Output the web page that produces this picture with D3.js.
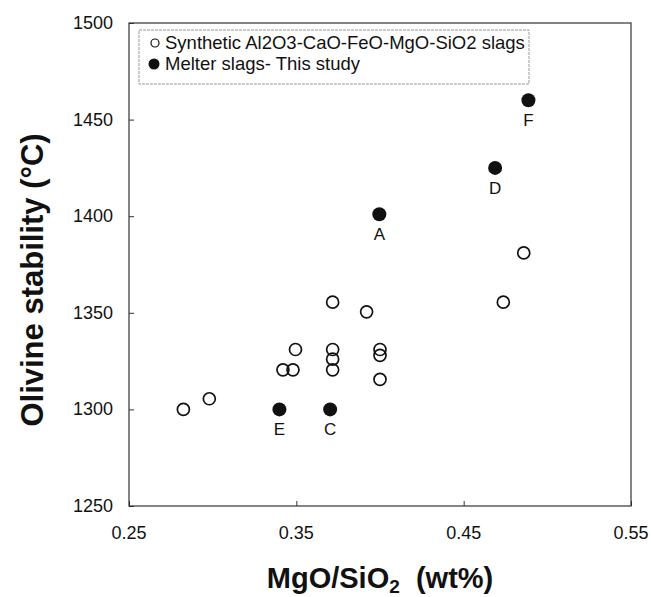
<!DOCTYPE html>
<head>
<meta charset="utf-8">
<style>
  body { margin: 0; background-color: white; }
  svg text { font-family: "Liberation Sans", Arial, sans-serif; fill: #111; }
  .tick-label { font-size: 18px; }
  .title { font-size: 29px; font-weight: bold; }
  .ytitle { font-size: 31px; font-weight: bold; }
  .pt-label { font-size: 17px; }
  .legend text { font-size: 18.5px; }
</style>
</head>
<body>
<svg width="651" height="597"></svg>
<script src="https://cdnjs.cloudflare.com/ajax/libs/d3/7.8.5/d3.min.js"></script>
<script>

// synthetic Al2O3-CaO-FeO-MgO-SiO2 slags (open)
var synthX = [0.2825, 0.298, 0.342, 0.348, 0.3495, 0.3717, 0.3717, 0.3717, 0.3717, 0.392, 0.400, 0.400, 0.400, 0.4737, 0.4859];
var synthY = [1300, 1305.5, 1320.5, 1320.5, 1331, 1355.5, 1331, 1326, 1320.5, 1350.5, 1331, 1328, 1315.5, 1355.5, 1381];

// melter slags - this study (filled)
var melterLabels = ["A", "C", "D", "E", "F"];
var melterX = [0.3996, 0.3702, 0.4688, 0.3399, 0.4887];
var melterY = [1401, 1300, 1425, 1300, 1460];

var xTicks = [0.25, 0.35, 0.45, 0.55];
var yTicks = [1250, 1300, 1350, 1400, 1450, 1500];

var legendLabels = ["Synthetic Al2O3-CaO-FeO-MgO-SiO2 slags", "Melter slags- This study"];

var svg = d3.select("svg"),
    margin = {left: 129, top: 23, right: 20, bottom: 91},
    width = 651 - margin.left - margin.right,
    height = 597 - margin.top - margin.bottom;

var x = d3.scaleLinear().domain([0.25, 0.55]).range([0, width]);
var y = d3.scaleLinear().domain([1250, 1500]).range([height, 0]);

var g = svg.append("g").attr("transform", "translate(" + margin.left + "," + margin.top + ")");

// inward ticks, labels drawn separately
var xAxis = g.append("g")
    .attr("transform", "translate(0," + height + ")")
    .call(d3.axisBottom(x).tickValues(xTicks).tickSize(-5).tickFormat(""));
var yAxis = g.append("g")
    .call(d3.axisLeft(y).tickValues(yTicks).tickSize(-5).tickFormat(""));
[xAxis, yAxis].forEach(function(a) {
  a.select(".domain").remove();
  a.selectAll("line").attr("stroke", "#333").attr("stroke-width", 1);
});

g.selectAll(".xlab")
  .data(xTicks)
  .enter().append("text")
    .attr("class", "tick-label")
    .attr("x", function(d) { return x(d); })
    .attr("y", height + 33)
    .attr("text-anchor", "middle")
    .text(function(d) { return d3.format(".2f")(d); });

g.selectAll(".ylab")
  .data(yTicks)
  .enter().append("text")
    .attr("class", "tick-label")
    .attr("x", -16)
    .attr("y", function(d) { return y(d) + 6; })
    .attr("text-anchor", "end")
    .text(function(d) { return d; });

// frame
g.append("rect")
  .attr("width", width).attr("height", height)
  .attr("fill", "none").attr("stroke", "#333").attr("stroke-width", 1.2);

// legend
var legend = g.append("g").attr("class", "legend").attr("transform", "translate(10,7)");
legend.append("rect")
  .attr("width", 390).attr("height", 54)
  .attr("fill", "none").attr("stroke", "#999").attr("stroke-width", 1)
  .attr("stroke-dasharray", "3,1");
legend.append("circle").attr("cx", 16).attr("cy", 13).attr("r", 4)
  .attr("fill", "white").attr("stroke", "#111").attr("stroke-width", 1.2);
legend.append("circle").attr("cx", 15).attr("cy", 34).attr("r", 5.5)
  .attr("fill", "#111");
legend.selectAll(".lt")
  .data(legendLabels)
  .enter().append("text")
    .attr("x", 26)
    .attr("y", function(d, i) { return 19 + i * 21; })
    .text(function(d) { return d; });

// open points
g.selectAll(".synth")
  .data(synthX)
  .enter().append("circle")
    .attr("cx", function(d) { return x(d); })
    .attr("cy", function(d, i) { return y(synthY[i]); })
    .attr("r", 6)
    .attr("fill", "none")
    .attr("stroke", "#111")
    .attr("stroke-width", 1.7);

// filled points
g.selectAll(".melter")
  .data(melterX)
  .enter().append("circle")
    .attr("cx", function(d) { return x(d); })
    .attr("cy", function(d, i) { return y(melterY[i]); })
    .attr("r", 7)
    .attr("fill", "#111");

g.selectAll(".mlab")
  .data(melterX)
  .enter().append("text")
    .attr("class", "pt-label")
    .attr("x", function(d) { return x(d); })
    .attr("y", function(d, i) { return y(melterY[i]) + 26; })
    .attr("text-anchor", "middle")
    .text(function(d, i) { return melterLabels[i]; });

// axis titles
var xt = svg.append("text")
  .attr("class", "title")
  .attr("x", margin.left + width / 2)
  .attr("y", 588)
  .attr("text-anchor", "middle");
xt.append("tspan").text("MgO/SiO");
xt.append("tspan").attr("font-size", "19px").attr("dy", 5).text("2");
xt.append("tspan").attr("dy", -5).attr("xml:space", "preserve").text("  (wt%)");

svg.append("text")
  .attr("class", "ytitle")
  .attr("transform", "translate(43,280) rotate(-90)")
  .attr("text-anchor", "middle")
  .text("Olivine stability (°C)");

</script>
</body>
